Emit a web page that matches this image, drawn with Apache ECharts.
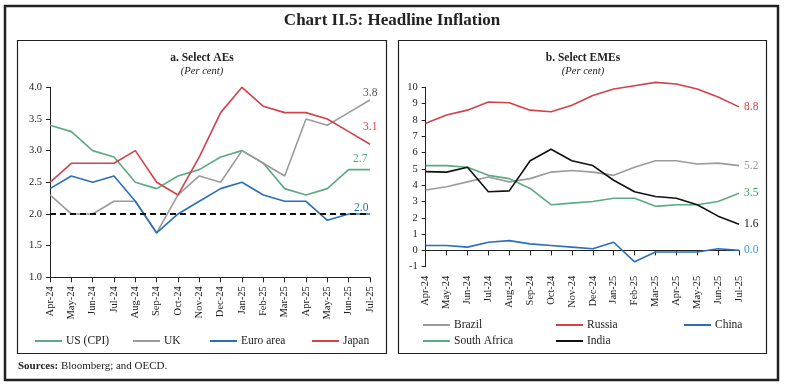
<!DOCTYPE html>
<html><head><meta charset="utf-8">
<script src="https://cdn.jsdelivr.net/npm/echarts@6/dist/echarts.min.js"></script>
<style>html,body{margin:0;padding:0;background:#fff}#c{width:785px;height:388px}</style>
</head><body><div id="c"></div>
<script>
const months = ["Apr-24","May-24","Jun-24","Jul-24","Aug-24","Sep-24","Oct-24","Nov-24","Dec-24","Jan-25","Feb-25","Mar-25","Apr-25","May-25","Jun-25","Jul-25"];
// Panel a: Select AEs
const usCPI = [3.4,3.3,3.0,2.9,2.5,2.4,2.6,2.7,2.9,3.0,2.8,2.4,2.3,2.4,2.7,2.7];
const uk    = [2.3,2.0,2.0,2.2,2.2,1.7,2.3,2.6,2.5,3.0,2.8,2.6,3.5,3.4,3.6,3.8];
const euro  = [2.4,2.6,2.5,2.6,2.2,1.7,2.0,2.2,2.4,2.5,2.3,2.2,2.2,1.9,2.0,2.0];
const japan = [2.5,2.8,2.8,2.8,3.0,2.5,2.3,2.9,3.6,4.0,3.7,3.6,3.6,3.5,3.3,3.1];
const targetLine = 2.0;
// Panel b: Select EMEs
const brazil = [3.7,3.9,4.2,4.5,4.2,4.4,4.8,4.9,4.8,4.6,5.1,5.5,5.5,5.3,5.35,5.2];
const russia = [7.8,8.3,8.6,9.1,9.05,8.6,8.5,8.9,9.5,9.9,10.1,10.3,10.2,9.9,9.4,8.8];
const china  = [0.3,0.3,0.2,0.5,0.6,0.4,0.3,0.2,0.1,0.5,-0.7,-0.1,-0.1,-0.1,0.1,0.0];
const southAfrica = [5.2,5.2,5.1,4.6,4.4,3.8,2.8,2.9,3.0,3.2,3.2,2.7,2.8,2.8,3.0,3.5];
const india  = [4.83,4.8,5.1,3.6,3.65,5.5,6.2,5.5,5.2,4.3,3.6,3.3,3.2,2.8,2.1,1.6];

const FONT = "Liberation Serif";
const C = {green:"#5aab82", gray:"#9b9b9b", blue:"#2a6fba", red:"#cf434b", black:"#111111"};

function line(name, data, color, xi, yi, off, labelColor){
  return {type:'line', name:name, xAxisIndex:xi, yAxisIndex:yi, data:data, clip:false,
    symbol:'none', lineStyle:{color:color, width:1.6}, itemStyle:{color:color}, silent:true, animation:false,
    endLabel:{show:true, offset:off, distance:5, color:labelColor||color, fontFamily:FONT, fontSize:11.5,
      formatter:(p)=>Number(p.value).toFixed(1)}};
}
const axisTxt = {color:'#222', fontFamily:FONT, fontSize:10.5};
const xCommon = {type:'category', data:months, boundaryGap:false,
  axisLine:{lineStyle:{color:'#222', width:1}}, axisTick:{show:true, length:5, interval:0, lineStyle:{color:'#222'}},
  axisLabel:Object.assign({rotate:90, interval:0, margin:9}, axisTxt), splitLine:{show:false}};
const yCommon = {type:'value', axisLine:{show:true, lineStyle:{color:'#222', width:1}}, axisTick:{show:true, length:4, lineStyle:{color:'#222'}}, splitLine:{show:false}};

function legendItem(name, left, top){
  return {data:[name], left:left, top:top, itemWidth:27, itemHeight:10, icon:'path://M0,4 L27,4 L27,6 L0,6 Z', itemGap:0, padding:0,
    textStyle:{fontFamily:FONT, fontSize:11.5, color:'#222', padding:[0,0,0,-1]}, selectedMode:false};
}

const option = {
  backgroundColor:'#fff',
  animation:false,
  grid:[
    {left:50, right:415, top:87.3, bottom:110.7},
    {left:425.7, right:46, top:87.3, bottom:121.3}
  ],
  xAxis:[Object.assign({gridIndex:0}, xCommon), Object.assign({gridIndex:1}, xCommon)],
  yAxis:[
    Object.assign({gridIndex:0, min:1.0, max:4.0, interval:0.5, axisLabel:Object.assign({formatter:(v)=>v.toFixed(1), margin:8}, axisTxt)}, yCommon),
    Object.assign({gridIndex:1, min:-1, max:10, interval:1, axisLabel:Object.assign({margin:8}, axisTxt)}, yCommon)
  ],
  legend:[
    legendItem('US (CPI)', 35, 335), legendItem('UK', 133, 335), legendItem('Euro area', 210, 335), legendItem('Japan', 312, 335),
    legendItem('Brazil', 423, 319), legendItem('Russia', 556, 319), legendItem('China', 684, 319),
    legendItem('South Africa', 423, 335), legendItem('India', 556, 335)
  ],
  series:[
    line('US (CPI)', usCPI, C.green, 0, 0, [-22,-11]),
    line('UK', uk, C.gray, 0, 0, [-12,-7], '#555'),
    Object.assign(line('Euro area', euro, C.blue, 0, 0, [-21,-6]), {markLine:{silent:true, symbol:'none', label:{show:false},
      lineStyle:{color:'#111', type:[6,4], width:1.8}, data:[{yAxis:targetLine}]}}),
    line('Japan', japan, C.red, 0, 0, [-12,-17]),
    line('Brazil', brazil, C.gray, 1, 1, [0,0]),
    line('Russia', russia, C.red, 1, 1, [0,0]),
    line('China', china, C.blue, 1, 1, [0,0], '#3a9ad9'),
    line('South Africa', southAfrica, C.green, 1, 1, [0,0], '#2f9e5a'),
    line('India', india, C.black, 1, 1, [0,0])
  ],
  graphic:[
    {type:'rect', shape:{x:5, y:6, width:773, height:374}, style:{fill:'none', stroke:'#222', lineWidth:2.5}, silent:true},
    {type:'rect', shape:{x:17.5, y:40.5, width:369, height:313}, style:{fill:'none', stroke:'#222', lineWidth:1.2}, silent:true},
    {type:'rect', shape:{x:398.5, y:40.5, width:368, height:313}, style:{fill:'none', stroke:'#222', lineWidth:1.2}, silent:true},
    {type:'text', x:392, y:21, style:{text:'Chart II.5: Headline Inflation', fontFamily:FONT, fontWeight:'bold', fontSize:17, fill:'#222', align:'center', verticalAlign:'middle'}},
    {type:'text', x:202, y:58, style:{text:'a. Select AEs', fontFamily:FONT, fontWeight:'bold', fontSize:11.5, fill:'#222', align:'center', verticalAlign:'middle'}},
    {type:'text', x:202, y:71, style:{text:'(Per cent)', fontFamily:FONT, fontStyle:'italic', fontSize:10.5, fill:'#222', align:'center', verticalAlign:'middle'}},
    {type:'text', x:583, y:58, style:{text:'b. Select EMEs', fontFamily:FONT, fontWeight:'bold', fontSize:11.5, fill:'#222', align:'center', verticalAlign:'middle'}},
    {type:'text', x:583, y:71, style:{text:'(Per cent)', fontFamily:FONT, fontStyle:'italic', fontSize:10.5, fill:'#222', align:'center', verticalAlign:'middle'}},
    {type:'text', x:18, y:366, style:{text:'{b|Sources:} Bloomberg; and OECD.', fontFamily:FONT, fontSize:11, fill:'#222', verticalAlign:'middle',
      rich:{b:{fontFamily:FONT, fontSize:11, fontWeight:'bold', fill:'#222'}}}}
  ]
};
const chart = echarts.init(document.getElementById('c'), null, {renderer:'canvas'});
chart.setOption(option);
</script></body></html>
